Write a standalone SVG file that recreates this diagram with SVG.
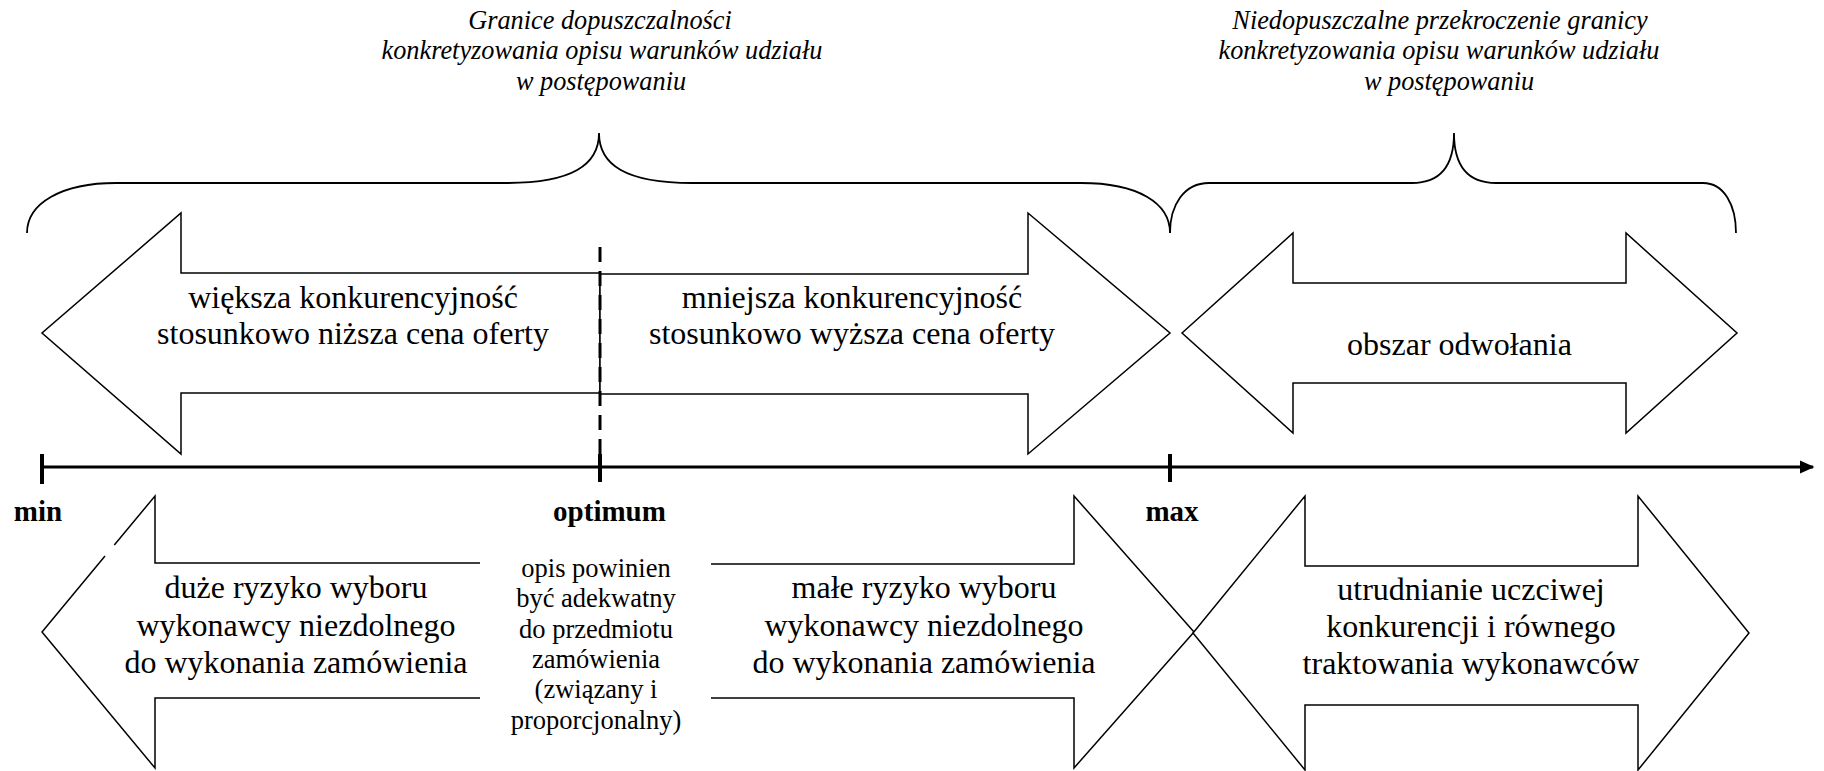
<svg xmlns="http://www.w3.org/2000/svg" width="1824" height="771" viewBox="0 0 1824 771">
<defs>
<style>
.shape{fill:#fff;stroke:#000;stroke-width:1.5;stroke-linejoin:miter}
.open{fill:none;stroke:#000;stroke-width:1.5;stroke-linejoin:miter}
.brace{fill:none;stroke:#000;stroke-width:1.8}
.axis{stroke:#000;stroke-width:3;fill:none}
.tick{stroke:#000;stroke-width:4}
.dash{stroke:#000;stroke-width:3;stroke-dasharray:15 9}
text{font-family:"Liberation Serif","Times New Roman",serif;fill:#000;text-anchor:middle}
.t{font-size:32px}
.title{font-size:26.3px;font-style:italic}
.lbl{font-size:29px;font-weight:bold}
.small{font-size:26.5px}
</style>
<marker id="ah" markerWidth="5" markerHeight="4.4" viewBox="0 0 10 8.8" refX="9" refY="4.4" orient="auto" markerUnits="strokeWidth">
<path d="M0,0 L10,4.4 L0,8.8 Z" fill="#000"/>
</marker>
</defs>
<rect width="1824" height="771" fill="#fff"/>

<g id="title-left">
<text class="title" x="600" y="28.5">Granice dopuszczalności</text>
<text class="title" x="602" y="59">konkretyzowania opisu warunków udziału</text>
<text class="title" x="601" y="89.5">w postępowaniu</text>
</g>
<g id="title-right">
<text class="title" x="1440" y="28.5">Niedopuszczalne przekroczenie granicy</text>
<text class="title" x="1439" y="59">konkretyzowania opisu warunków udziału</text>
<text class="title" x="1449" y="89.5">w postępowaniu</text>
</g>

<g id="brace-left">
<path class="brace" d="M27,233 C27,203 62,183 116,183 H506 C572,183 599,165 599,133 C599,165 626,183 692,183 H1081 C1138,183 1170,203 1170,233"/>
</g>
<g id="brace-right">
<path class="brace" d="M1170,233 C1170,205 1184,183 1209,183 H1412 C1441,183 1454,165 1454,133 C1454,165 1467,183 1496,183 H1703 C1724,183 1736,205 1736,233"/>
</g>

<g id="arrow-top-left">
<polygon class="shape" points="600,273 181,273 181,213 42,333 181,454 181,393 600,393"/>
<text class="t" x="353" y="308">większa konkurencyjność</text>
<text class="t" x="353" y="344">stosunkowo niższa cena oferty</text>
</g>
<g id="arrow-top-right">
<polygon class="shape" points="600,274 1028,274 1028,213 1170,333 1028,454 1028,394 600,394"/>
<text class="t" x="852" y="308">mniejsza konkurencyjność</text>
<text class="t" x="852" y="344">stosunkowo wyższa cena oferty</text>
</g>
<g id="arrow-appeal">
<polygon class="shape" points="1182,333 1293,233 1293,283 1626,283 1626,233 1737,333 1626,433 1626,383 1293,383 1293,433"/>
<text class="t" x="1459.5" y="355">obszar odwołania</text>
</g>

<g id="connectors">
<line class="dash" x1="600" y1="247" x2="600" y2="456"/>
<line class="axis" x1="42" y1="467" x2="1813" y2="467" marker-end="url(#ah)"/>
<line class="tick" x1="42" y1="454" x2="42" y2="484"/>
<line class="tick" x1="600" y1="454" x2="600" y2="482"/>
<line class="tick" x1="1170" y1="454" x2="1170" y2="482"/>
</g>

<g id="label-min"><text class="lbl" x="38" y="521">min</text></g>
<g id="label-optimum"><text class="lbl" x="609.5" y="521">optimum</text></g>
<g id="label-max"><text class="lbl" x="1172" y="521">max</text></g>

<g id="arrow-bottom-left">
<path class="open" d="M480,563 H155 V496 L114.3,545 M105,556 L42,632 L155,768 V698 H480"/>
<text class="t" x="296" y="598">duże ryzyko wyboru</text>
<text class="t" x="296" y="635.5">wykonawcy niezdolnego</text>
<text class="t" x="296" y="673">do wykonania zamówienia</text>
</g>
<g id="optimum-note">
<text class="small" x="596" y="577">opis powinien</text>
<text class="small" x="596" y="607">być adekwatny</text>
<text class="small" x="596" y="637.5">do przedmiotu</text>
<text class="small" x="596" y="668">zamówienia</text>
<text class="small" x="596" y="698">(związany i</text>
<text class="small" x="596" y="728.5">proporcjonalny)</text>
</g>
<g id="arrow-bottom-middle">
<path class="open" d="M711,564 H1074 V496 L1194,632 L1074,768 V698 H711"/>
<text class="t" x="924" y="598">małe ryzyko wyboru</text>
<text class="t" x="924" y="635.5">wykonawcy niezdolnego</text>
<text class="t" x="924" y="673">do wykonania zamówienia</text>
</g>
<g id="arrow-bottom-right">
<polygon class="shape" points="1193,633 1305,496 1305,566 1638,566 1638,496 1749,633 1638,770 1638,705 1305,705 1305,770"/>
<text class="t" x="1471" y="600">utrudnianie uczciwej</text>
<text class="t" x="1471" y="637">konkurencji i równego</text>
<text class="t" x="1471" y="674">traktowania wykonawców</text>
</g>
</svg>
